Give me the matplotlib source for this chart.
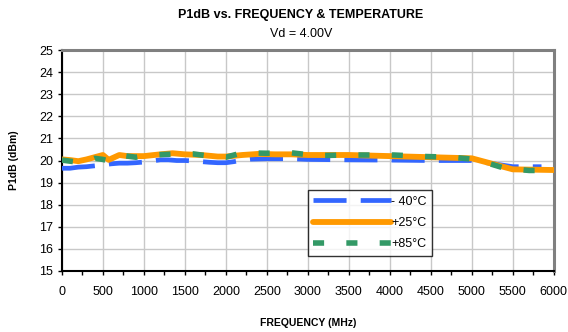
import matplotlib.pyplot as plt
import numpy as np

# -40C series
freq_m40 = [0, 100, 200, 300, 400, 500, 600, 700, 800, 900, 1000, 1100, 1200, 1300,
            1400, 1500, 1600, 1700, 1800, 1900, 2000, 2100, 2200, 2300, 2500, 2800,
            3000, 3500, 4000, 4500, 5000, 5500, 5850]
p1db_m40 = [19.65, 19.65, 19.70, 19.72, 19.76, 19.80, 19.85, 19.88, 19.88, 19.90, 19.93,
            19.98, 20.03, 20.03, 20.00, 20.00, 19.98, 19.95, 19.92, 19.90, 19.90, 19.95,
            20.02, 20.06, 20.08, 20.08, 20.05, 20.03, 20.02, 20.00, 20.00, 19.72, 19.72]

# +25C series
freq_25 = [0, 100, 200, 300, 400, 500, 570, 700, 800, 1000, 1200, 1350, 1500, 1700,
           1900, 2000, 2200, 2400, 2600, 2800, 3000, 3500, 4000, 4500, 5000, 5500, 6000]
p1db_25 = [20.05, 20.02, 19.97, 20.05, 20.15, 20.25, 20.03, 20.25, 20.20, 20.20, 20.28,
           20.33, 20.28, 20.25, 20.18, 20.18, 20.25, 20.30, 20.28, 20.28, 20.25, 20.25,
           20.20, 20.15, 20.10, 19.60, 19.57]

# +85C series
freq_85 = [0, 100, 200, 300, 400, 500, 550, 700, 900, 1100, 1400, 1600, 1800, 2000,
           2200, 2500, 2800, 3100, 3450, 3750, 4050, 4450, 4750, 5050, 5400, 5700, 5900]
p1db_85 = [20.02, 19.97, 19.92, 19.95, 20.10, 20.05, 20.00, 20.25, 20.15, 20.25, 20.30,
           20.30, 20.20, 20.15, 20.35, 20.33, 20.35, 20.22, 20.25, 20.25, 20.25, 20.18,
           20.15, 20.05, 19.65, 19.55, 19.55]

labels = ["- 40°C", "+25°C", "+85°C"]
colors = ["#3366FF", "#FF9900", "#339966"]

plt.rcParams['font.family'] = ['Liberation Sans', 'DejaVu Sans']

fig = plt.figure(figsize=(5.68, 3.32), dpi=100)
ax = fig.add_axes([0.109, 0.184, 0.866, 0.665])

ax.plot(freq_m40, p1db_m40, color=colors[0], lw=3.4, dashes=(7, 3),
        dash_capstyle='butt', label=labels[0], zorder=3)
ax.plot(freq_25, p1db_25, color=colors[1], lw=4.2, solid_capstyle='round',
        label=labels[1], zorder=4)
ax.plot(freq_85, p1db_85, color=colors[2], lw=4.0, dashes=(2, 4),
        dash_capstyle='butt', label=labels[2], zorder=5)

ax.set_xlim(0, 6000)
ax.set_ylim(15, 25)
ax.set_xticks(np.arange(0, 6001, 500))
ax.set_xticks(np.arange(0, 6001, 250), minor=True)
ax.set_yticks(np.arange(15, 26, 1))
ax.grid(True, which='major', axis='x', color='#C8C8C8', lw=1.0)
ax.grid(True, which='major', axis='y', color='#C8C8C8', lw=1.0)
ax.set_axisbelow(True)

ax.tick_params(axis='both', which='major', labelsize=9, direction='out', length=3,
               width=1, color='black')
ax.tick_params(axis='x', which='minor', direction='out', length=3, width=1)
ax.tick_params(axis='x', pad=8)

for s in ['left', 'bottom']:
    ax.spines[s].set_color('black')
    ax.spines[s].set_linewidth(1.5)
for s in ['top', 'right']:
    ax.spines[s].set_color('#808080')
    ax.spines[s].set_linewidth(2.2)

ax.set_xlabel("FREQUENCY (MHz)", fontsize=7.5, fontweight='bold', labelpad=14)
ax.set_ylabel("P1dB (dBm)", fontsize=7.5, fontweight='bold', labelpad=14)

fig.text(0.53, 0.955, "P1dB vs. FREQUENCY & TEMPERATURE", ha='center', va='center',
         fontsize=9, fontweight='bold')
fig.text(0.53, 0.897, "Vd = 4.00V", ha='center', va='center', fontsize=9)

leg = ax.legend(loc='upper left', bbox_to_anchor=(0.500, 0.367), frameon=True,
                fancybox=False, edgecolor='black', fontsize=9, handlelength=6.2,
                handletextpad=0.0, labelspacing=0.75, borderpad=0.45,
                borderaxespad=0)
leg.get_frame().set_linewidth(1.0)

plt.savefig("out.png", dpi=100)
